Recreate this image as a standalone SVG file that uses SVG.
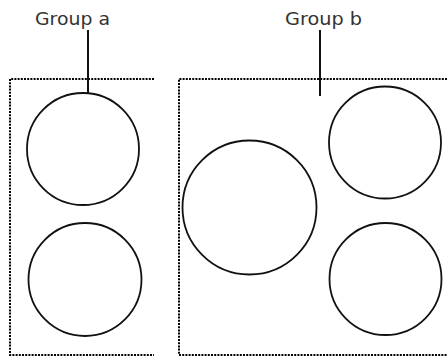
<svg xmlns="http://www.w3.org/2000/svg" width="447" height="359" viewBox="0 0 447 359">
  <style>
    .grp { fill: none; stroke: #000; stroke-width: 2; stroke-dasharray: 2 1.2; }
    .node { fill: #fff; stroke: #111; stroke-width: 1.8; }
    .lead { stroke: #111; stroke-width: 2; fill: none; }
    .label { font-family: "DejaVu Sans", "Open Sans", sans-serif; font-size: 17px; fill: #333; }
  </style>
  <rect width="447" height="359" fill="#fff"/>
  <g id="group-a">
    <path class="grp" d="M154,79 H10 V355 H154"/>
    <text class="label" x="35" y="25" textLength="75" lengthAdjust="spacingAndGlyphs">Group a</text>
  </g>
  <g id="group-b">
    <path class="grp" d="M447,79 H179 V355 H447"/>
    <text class="label" x="285" y="25" textLength="77" lengthAdjust="spacingAndGlyphs">Group b</text>
  </g>
  <g id="connectors">
    <line class="lead" x1="88" y1="30" x2="88" y2="93"/>
    <line class="lead" x1="320" y1="30" x2="320" y2="96"/>
  </g>
  <g id="a1"><circle class="node" cx="83" cy="149" r="56"/></g>
  <g id="a2"><circle class="node" cx="85" cy="279.5" r="56.5"/></g>
  <g id="b1"><circle class="node" cx="249.5" cy="207.5" r="67"/></g>
  <g id="b2"><circle class="node" cx="385" cy="142.5" r="56"/></g>
  <g id="b3"><circle class="node" cx="385.5" cy="279" r="56"/></g>
</svg>
